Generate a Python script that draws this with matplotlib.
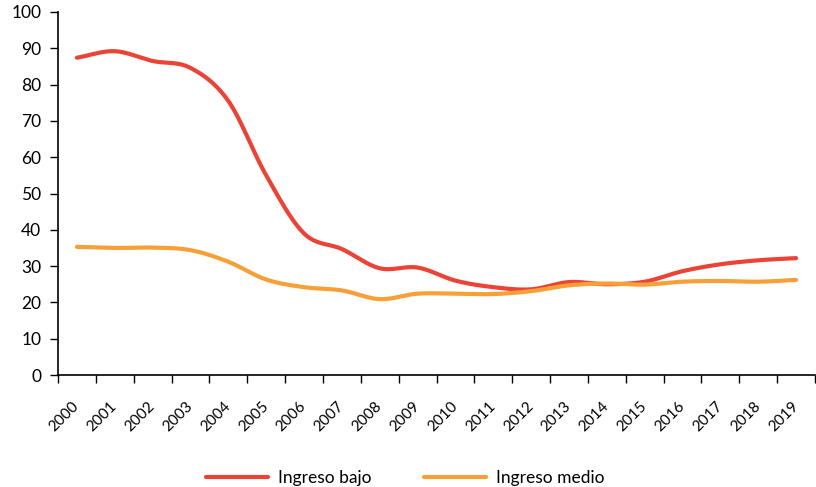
import numpy as np
import matplotlib
matplotlib.use("Agg")
import matplotlib.pyplot as plt
from matplotlib.ticker import FixedLocator

plt.rcParams['font.family'] = ['Lato', 'DejaVu Sans']

years = [str(y) for y in range(2000, 2020)]
ingreso_bajo = [87.4, 89.2, 86.5, 84.6, 75.5, 55.0, 39.0, 34.7, 29.4, 29.6,
                26.0, 24.2, 23.6, 25.6, 25.0, 25.7, 28.6, 30.5, 31.6, 32.2]
ingreso_medio = [35.3, 35.0, 35.1, 34.4, 31.2, 26.3, 24.2, 23.3, 20.9, 22.4,
                 22.4, 22.3, 23.1, 24.7, 25.2, 24.9, 25.7, 25.9, 25.7, 26.2]
series_names = ["Ingreso bajo", "Ingreso medio"]
colors = ["#EB4335", "#F8A037"]


def smooth(y, n=20):
    # Catmull-Rom spline through the data points (Excel-like smoothed line)
    y = np.asarray(y, dtype=float)
    x = np.arange(len(y), dtype=float)
    p = np.concatenate([[2 * y[0] - y[1]], y, [2 * y[-1] - y[-2]]])
    xs, ys = [], []
    for i in range(len(y) - 1):
        p0, p1, p2, p3 = p[i], p[i + 1], p[i + 2], p[i + 3]
        t = np.linspace(0, 1, n, endpoint=False)
        yy = 0.5 * ((2 * p1) + (-p0 + p2) * t + (2 * p0 - 5 * p1 + 4 * p2 - p3) * t ** 2
                    + (-p0 + 3 * p1 - 3 * p2 + p3) * t ** 3)
        xs.append(x[i] + t)
        ys.append(yy)
    xs.append([x[-1]])
    ys.append([y[-1]])
    return np.concatenate(xs), np.concatenate(ys)


fig = plt.figure(figsize=(8.16, 4.87), dpi=100)
ax = fig.add_axes([58 / 816, 1 - 375 / 487, (815 - 58) / 816, (375 - 12) / 487])

handles = []
for vals, name, c in zip([ingreso_bajo, ingreso_medio], series_names, colors):
    xs, ys = smooth(vals)
    h, = ax.plot(xs, ys, color=c, lw=3.0, solid_capstyle='round', label=name)
    handles.append(h)

ax.set_xlim(-0.5, len(years) - 0.5)
ax.set_ylim(0, 100)
ax.set_yticks(np.arange(0, 101, 10))
ax.tick_params(axis='y', direction='out', length=6, width=1, labelsize=12.5, pad=6)

ax.set_xticks(np.arange(len(years)))
ax.set_xticklabels(years, rotation=45, ha='right', va='center', rotation_mode='anchor')
ax.xaxis.set_minor_locator(FixedLocator(np.arange(-0.5, len(years), 1.0)))
ax.tick_params(axis='x', which='major', length=0, labelsize=11, pad=21)
ax.tick_params(axis='x', which='minor', direction='out', length=6, width=1)

for s in ['top', 'right']:
    ax.spines[s].set_visible(False)
for s in ['left', 'bottom']:
    ax.spines[s].set_linewidth(1.2)
    ax.spines[s].set_color('black')

fig.legend(handles=handles, labels=series_names, loc='center', ncol=2,
           bbox_to_anchor=(405 / 816, 1 - 478 / 487), frameon=False,
           fontsize=12.5, handlelength=3.6, columnspacing=3.0, handletextpad=0.55)

fig.savefig("out.png", dpi=100)
